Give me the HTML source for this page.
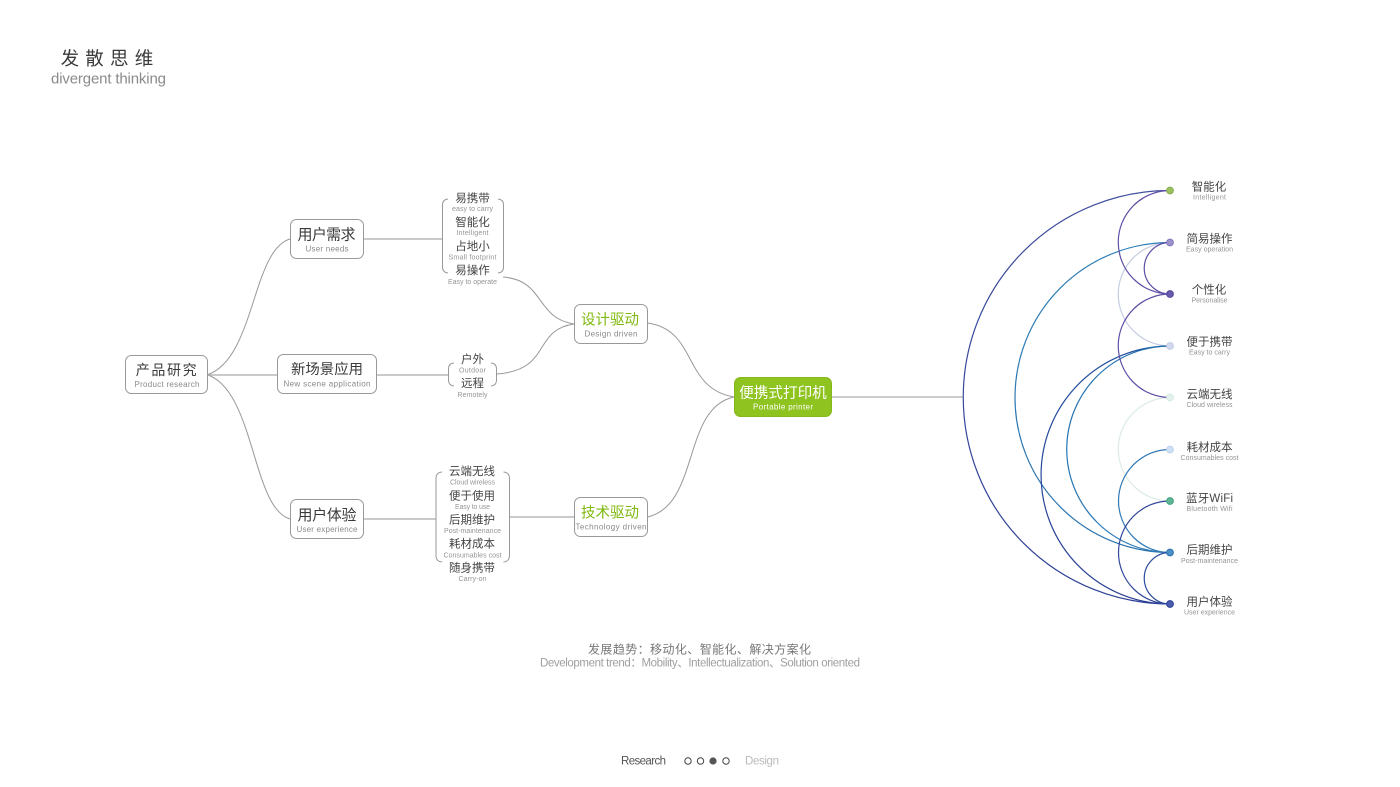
<!DOCTYPE html>
<html><head><meta charset="utf-8"><style>
html,body{margin:0;padding:0;background:#fff;width:1400px;height:787px;overflow:hidden}
svg{display:block}
text{font-family:"Liberation Sans","Noto Sans CJK SC",sans-serif;text-anchor:middle}
.b{font-size:15px;fill:#3a3a3a}
.m{font-size:11.5px;fill:#444}
.e{font-size:8px;fill:#8a8a8a}
.s{font-size:7px;fill:#959595}
.g{font-size:14.5px;fill:#7fb80e}
.box{fill:#fff;stroke:#999;stroke-width:1}
.ln{fill:none;stroke:#999;stroke-width:1}
.th{fill:none;stroke:#aaa;stroke-width:1.2}
.a{fill:none;stroke-width:1.2}
</style></head><body>
<svg width="1400" height="787" viewBox="0 0 1400 787" xmlns="http://www.w3.org/2000/svg">
<defs>
<linearGradient id="g1" gradientUnits="userSpaceOnUse" x1="0" y1="190" x2="0" y2="604"><stop offset="0" stop-color="#3f4f9f"/><stop offset="1" stop-color="#2c3f95"/></linearGradient>
<linearGradient id="g2" gradientUnits="userSpaceOnUse" x1="0" y1="242" x2="0" y2="552"><stop offset="0" stop-color="#2f80b8"/><stop offset="1" stop-color="#2a72ae"/></linearGradient>
<linearGradient id="g3" gradientUnits="userSpaceOnUse" x1="0" y1="346" x2="0" y2="604"><stop offset="0" stop-color="#1f4f9c"/><stop offset="1" stop-color="#2c3f95"/></linearGradient>
<linearGradient id="g4" gradientUnits="userSpaceOnUse" x1="0" y1="346" x2="0" y2="552"><stop offset="0" stop-color="#1f70b0"/><stop offset="1" stop-color="#2a78b4"/></linearGradient>
</defs>

<!-- title -->
<text x="110" y="65" style="font-size:18.5px;letter-spacing:6.2px;fill:#3a3a3a">发散思维</text>
<text x="108.5" y="83.5" style="font-size:15px;fill:#8a8a8a" textLength="115">divergent thinking</text>

<!-- left connectors -->
<path class="ln" d="M208 374.5C255 358 252 250 290 239"/>
<path class="ln" d="M208 375C255 392 252 508 290 519"/>
<path class="th" d="M208 375H277M377 375H448.5M363 239H442.5M363 519H436M509.5 517H574"/>
<path class="ln" d="M503 277C545 280 535 318 574 324"/>
<path class="ln" d="M497 374C552 370 532 330 574 324"/>
<path class="ln" d="M647.5 323C698 330 682 388 734 397"/>
<path class="ln" d="M647.5 517C700 505 682 408 734 397"/>
<path class="ln" d="M832 397H963"/>

<!-- brackets -->
<path class="ln" d="M448 199Q442.5 199.5 442.5 205V267Q442.5 272.5 448 273M498 199Q503.5 199.5 503.5 205V267Q503.5 272.5 498 273"/>
<path class="ln" d="M454 363Q448.5 363.5 448.5 369V380Q448.5 385.5 454 386M491 363Q496.5 363.5 496.5 369V380Q496.5 385.5 491 386"/>
<path class="ln" d="M442 472Q436 472.5 436 478.5V555.5Q436 561.5 442 562M503.5 472Q509.5 472.5 509.5 478.5V555.5Q509.5 561.5 503.5 562"/>

<!-- boxes -->
<rect class="box" x="125.5" y="355.5" width="82" height="38" rx="6"/>
<rect class="box" x="290.5" y="219.5" width="73" height="39" rx="6"/>
<rect class="box" x="277.5" y="354.5" width="99" height="39" rx="6"/>
<rect class="box" x="290.5" y="499.5" width="73" height="39" rx="6"/>
<rect class="box" x="574.5" y="304.5" width="73" height="39" rx="6"/>
<rect class="box" x="574.5" y="497.5" width="73" height="39" rx="6"/>
<rect x="734.5" y="377.5" width="97" height="39" rx="6" fill="#8fc31f" stroke="#86b81c"/>

<!-- box text -->
<text x="167" y="375" style="font-size:14px;letter-spacing:1.6px;fill:#3a3a3a">产品研究</text>
<text class="e" x="167" y="387" textLength="65">Product research</text>
<text class="b" x="326.5" y="239.5" textLength="58">用户需求</text>
<text class="e" x="327" y="251.5" textLength="43">User needs</text>
<text x="327" y="374" style="font-size:14.4px;fill:#3a3a3a">新场景应用</text>
<text class="e" x="327" y="386.5" textLength="87">New scene application</text>
<text class="b" x="327" y="520" textLength="59">用户体验</text>
<text class="e" x="327" y="532" textLength="61">User experience</text>
<text class="g" x="610" y="324.5">设计驱动</text>
<text class="e" x="611" y="336.5" textLength="53">Design driven</text>
<text class="g" x="610" y="517.5">技术驱动</text>
<text class="e" x="611" y="529.5" textLength="71">Technology driven</text>
<text x="783" y="397.5" style="font-size:14.6px;fill:#fff">便携式打印机</text>
<text x="783" y="409.5" style="font-size:8px;fill:#fff" textLength="60">Portable printer</text>

<!-- bracket text: group 1 -->
<text class="m" x="472.5" y="202">易携带</text><text class="s" x="472.5" y="211" textLength="41">easy to carry</text>
<text class="m" x="472.5" y="226">智能化</text><text class="s" x="472.5" y="235" textLength="32">Intelligent</text>
<text class="m" x="472.5" y="250">占地小</text><text class="s" x="472.5" y="259.5" textLength="48">Small footprint</text>
<text class="m" x="472.5" y="274">易操作</text><text class="s" x="472.5" y="284" textLength="49">Easy to operate</text>
<!-- group 2 -->
<text class="m" x="472.5" y="363">户外</text><text class="s" x="472.5" y="372.5" textLength="27">Outdoor</text>
<text class="m" x="472.5" y="387">远程</text><text class="s" x="472.5" y="397" textLength="30">Remotely</text>
<!-- group 3 -->
<text class="m" x="472" y="475">云端无线</text><text class="s" x="472.5" y="484.5" textLength="45">Cloud wireless</text>
<text class="m" x="472" y="499.5">便于使用</text><text class="s" x="472.5" y="509" textLength="35">Easy to use</text>
<text class="m" x="472" y="523.5">后期维护</text><text class="s" x="472.5" y="533" textLength="57">Post-maintenance</text>
<text class="m" x="472" y="547.5">耗材成本</text><text class="s" x="472.5" y="557.5" textLength="58">Consumables cost</text>
<text class="m" x="472" y="571.5">随身携带</text><text class="s" x="472.5" y="581" textLength="28">Carry-on</text>

<!-- arcs -->
<path class="a" stroke="#c5cde3" d="M1170 242.5A51.75 51.75 0 0 0 1170 346"/>
<path class="a" stroke="#dcebe6" d="M1170 397.5A51.75 51.75 0 0 0 1170 501"/>
<path class="a" stroke="url(#g1)" d="M1170 190.5A206.75 206.75 0 0 0 1170 604"/>
<path class="a" stroke="url(#g2)" d="M1170 242.5A155 155 0 0 0 1170 552.5"/>
<path class="a" stroke="url(#g3)" d="M1170 346A129 129 0 0 0 1170 604"/>
<path class="a" stroke="url(#g4)" d="M1170 346A103.25 103.25 0 0 0 1170 552.5"/>
<path class="a" stroke="#5f4ea5" d="M1170 190.5A51.75 51.75 0 0 0 1170 294"/>
<path class="a" stroke="#5f4ea5" d="M1170 242.5A25.75 25.75 0 0 0 1170 294"/>
<path class="a" stroke="#5f4ea5" d="M1170 294A51.75 51.75 0 0 0 1170 397.5"/>
<path class="a" stroke="#2f78b5" d="M1170 449.5A51.5 51.5 0 0 0 1170 552.5"/>
<path class="a" stroke="#33479b" d="M1170 501A51.5 51.5 0 0 0 1170 604"/>
<path class="a" stroke="#2b4c9e" d="M1170 552.5A25.75 25.75 0 0 0 1170 604"/>

<!-- dots -->
<circle cx="1170" cy="190.5" r="3.4" fill="#9cc05f" stroke="#86ad52"/>
<circle cx="1170" cy="242.5" r="3.4" fill="#9c92cc" stroke="#8478bd"/>
<circle cx="1170" cy="294" r="3.4" fill="#6a5aad" stroke="#54469b"/>
<circle cx="1170" cy="346" r="3.4" fill="#d3d9ec" stroke="#c2cbe3"/>
<circle cx="1170" cy="397.5" r="3.4" fill="#e3f1ec" stroke="#d5e9e2"/>
<circle cx="1170" cy="449.5" r="3.4" fill="#cfdff3" stroke="#bcd2ee"/>
<circle cx="1170" cy="501" r="3.4" fill="#5fb596" stroke="#3fa37f"/>
<circle cx="1170" cy="552.5" r="3.4" fill="#4d8fc8" stroke="#2a72ae"/>
<circle cx="1170" cy="604" r="3.4" fill="#4a5cae" stroke="#2c3f95"/>

<!-- right labels -->
<text class="m" x="1209" y="190.5">智能化</text><text class="s" x="1209.5" y="199.5" textLength="33">Intelligent</text>
<text class="m" x="1209.5" y="242.5">简易操作</text><text class="s" x="1209.5" y="251.5" textLength="47">Easy operation</text>
<text class="m" x="1209" y="293.5">个性化</text><text class="s" x="1209.5" y="302.5" textLength="36">Personalise</text>
<text class="m" x="1209.5" y="345.5">便于携带</text><text class="s" x="1209.5" y="354.5" textLength="41">Easy to carry</text>
<text class="m" x="1209.5" y="398">云端无线</text><text class="s" x="1209.5" y="407" textLength="46">Cloud wireless</text>
<text class="m" x="1209.5" y="451">耗材成本</text><text class="s" x="1209.5" y="460" textLength="58">Consumables cost</text>
<text class="m" x="1209.5" y="502" textLength="47">蓝牙WiFi</text><text class="s" x="1209.5" y="511" textLength="46">Bluetooth Wifi</text>
<text class="m" x="1209.5" y="553.5">后期维护</text><text class="s" x="1209.5" y="563" textLength="57">Post-maintenance</text>
<text class="m" x="1209.5" y="605.5">用户体验</text><text class="s" x="1209.5" y="614.5" textLength="51">User experience</text>

<!-- trend -->
<text x="699.5" y="653.5" style="font-size:12px;fill:#777" textLength="223">发展趋势：移动化、智能化、解决方案化</text>
<text x="700" y="666.5" style="font-size:11.5px;fill:#a0a0a0" textLength="320">Development trend：Mobility、Intellectualization、Solution oriented</text>

<!-- footer -->
<text x="643.5" y="764.5" style="font-size:11.5px;fill:#555" textLength="45">Research</text>
<circle cx="688" cy="761" r="3.2" fill="#fff" stroke="#444" stroke-width="1"/>
<circle cx="700.5" cy="761" r="3.2" fill="#fff" stroke="#444" stroke-width="1"/>
<circle cx="713" cy="761" r="3.6" fill="#555"/>
<circle cx="726" cy="761" r="3.2" fill="#fff" stroke="#444" stroke-width="1"/>
<text x="762" y="764.5" style="font-size:11.5px;fill:#bbb" textLength="34">Design</text>
</svg>
</body></html>
